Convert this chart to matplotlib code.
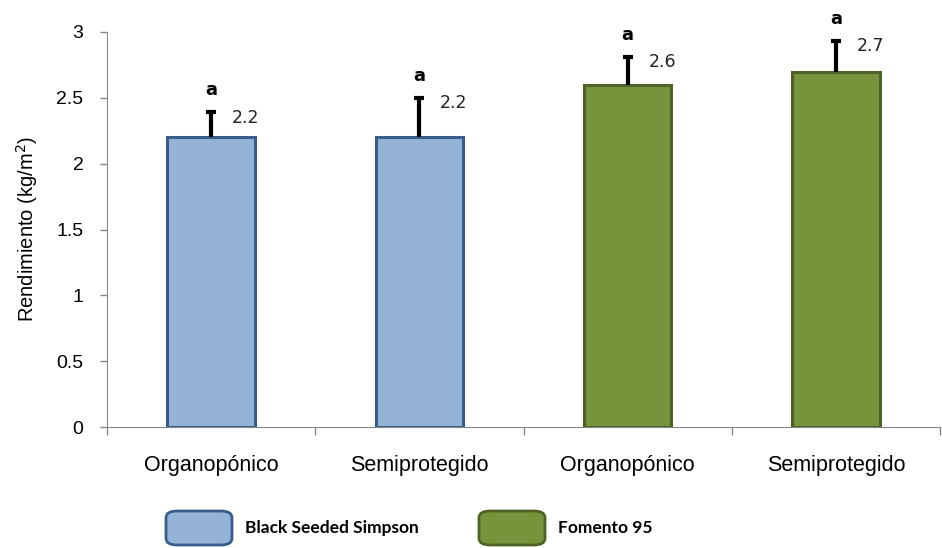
import numpy as np
import matplotlib.pyplot as plt
from matplotlib.patches import FancyBboxPatch

categories = ['Organopónico', 'Semiprotegido', 'Organopónico', 'Semiprotegido']
values = [2.2, 2.2, 2.6, 2.7]
errors = [0.19, 0.30, 0.21, 0.23]
letters = ['a', 'a', 'a', 'a']
series = ['Black Seeded Simpson', 'Black Seeded Simpson', 'Fomento 95', 'Fomento 95']

face = {'Black Seeded Simpson': '#95b3d7', 'Fomento 95': '#77933c'}
edge = {'Black Seeded Simpson': '#385d8a', 'Fomento 95': '#4f6228'}

plt.rcParams['font.family'] = ['Liberation Sans', 'DejaVu Sans']

fig = plt.figure(figsize=(9.42, 5.48), dpi=100)
ax = fig.add_axes([107/942, 1-427/548, 833/942, 395/548])

x = np.arange(len(values))
for i in x:
    ax.bar(i, values[i], width=0.42, color=face[series[i]], edgecolor=edge[series[i]],
           linewidth=2.2, zorder=2)
    eb = ax.errorbar(i, values[i], yerr=[[0], [errors[i]]], fmt='none', ecolor='black',
                     elinewidth=3, capsize=3.5, capthick=3, zorder=3)
    eb[1][0].set_visible(False)  # no cap at bar top
    top = values[i] + errors[i]
    ax.text(i + 0.1, top - 0.04, f'{values[i]:.1f}', fontsize=12.5, va='center', ha='left',
            color='#222222', family='DejaVu Sans')
    ax.text(i, top + 0.1, letters[i], fontsize=13, fontweight='bold', ha='center', va='bottom',
            family='DejaVu Sans')

ax.set_xlim(-0.5, len(values) - 0.5)
ax.set_ylim(0, 3)
ax.set_yticks([0, 0.5, 1, 1.5, 2, 2.5, 3])
ax.set_yticklabels(['0', '0.5', '1', '1.5', '2', '2.5', '3'])
ax.set_xticks(x)
ax.set_xticklabels(categories)
ax.set_xticks(np.arange(-0.5, len(values)), minor=True)
ax.tick_params(axis='x', which='major', length=0, pad=20, labelsize=15.5)
ax.tick_params(axis='x', which='minor', length=6, width=1, color='#888888')
ax.tick_params(axis='y', length=5, width=1, color='#888888', labelsize=14, pad=12)
for s in ['top', 'right']:
    ax.spines[s].set_visible(False)
ax.spines['left'].set_color('#888888')
ax.spines['bottom'].set_color('#888888')
ax.set_ylabel('Rendimiento (kg/m$^2$)', fontsize=14.5, labelpad=12)

# legend at bottom
leg = [('Black Seeded Simpson', 166), ('Fomento 95', 479)]
for name, px in leg:
    box = FancyBboxPatch((px/942, 1-545/548), 66/942, 34/548,
                         boxstyle='round,pad=0,rounding_size=0.012',
                         transform=fig.transFigure, facecolor=face[name],
                         edgecolor=edge[name], linewidth=2)
    fig.patches.append(box)
    fig.text((px + 79)/942, 1-528/548, name, fontsize=12.5, fontweight='bold',
             va='center', ha='left', family=['Lato', 'DejaVu Sans'])

fig.savefig('out.png', dpi=100)
